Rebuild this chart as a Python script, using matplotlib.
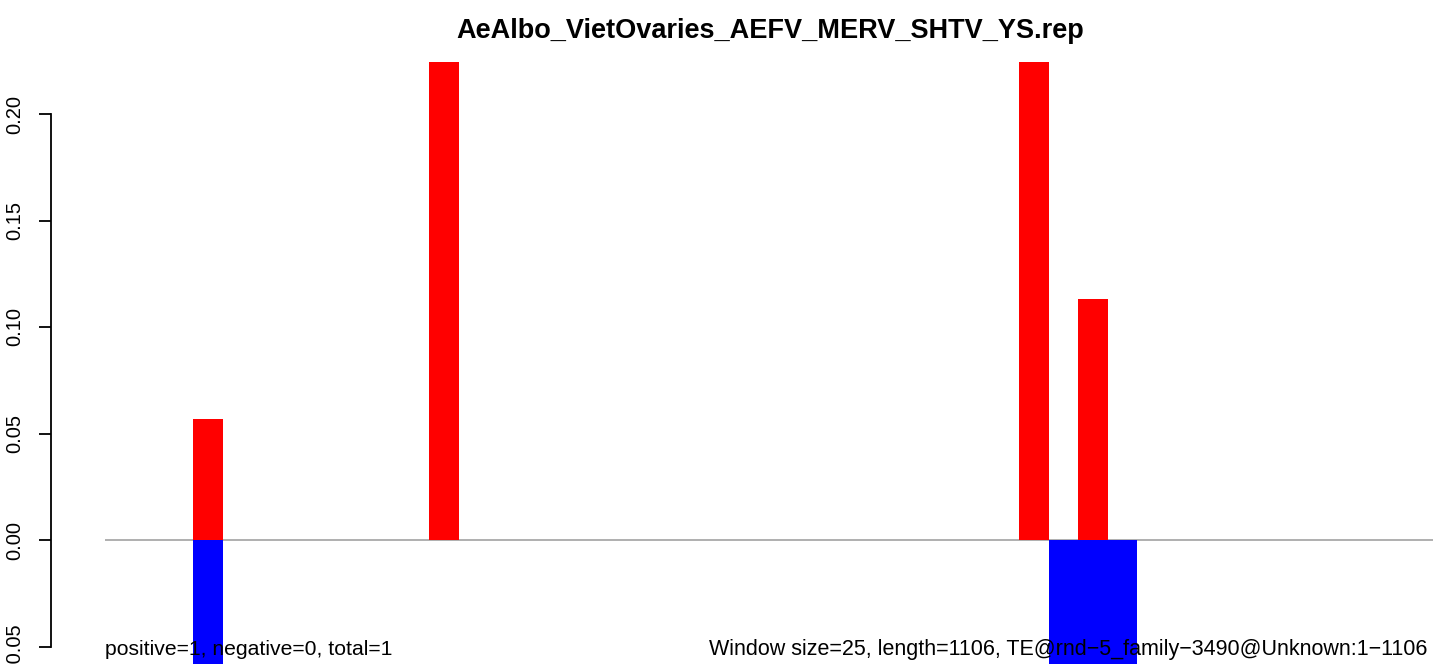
import matplotlib
matplotlib.use("Agg")
import matplotlib.pyplot as plt
import numpy as np

plt.rcParams['font.family'] = ['Liberation Sans', 'DejaVu Sans']
plt.rcParams['axes.unicode_minus'] = False

# window index -> score (window size 25 over a 1106 bp element)
n_windows = 45
pos_idx = [3, 11, 31, 33]
pos_val = [0.0566, 0.2264, 0.2264, 0.1132]
neg_idx = [3, 32, 33, 34]
neg_val = [-0.06, -0.06, -0.06, -0.06]

title = "AeAlbo_VietOvaries_AEFV_MERV_SHTV_YS.rep"
left_note = "positive=1, negative=0, total=1"
right_note = "Window size=25, length=1106, TE@rnd\u22125_family\u22123490@Unknown:1\u22121106"
yticks = [-0.05, 0.00, 0.05, 0.10, 0.15, 0.20]

W, H = 1433, 664
fig = plt.figure(figsize=(W / 100, H / 100), dpi=100)
# plot region is wider than the picture (cropped on the right and bottom)
ax = fig.add_axes([51.4 / W, 0.0, 1434 / W, (H - 62) / H])
ax.set_xlim(-1.8, n_windows + 1.8)
ax.set_ylim(-124 / 2130, 478 / 2130)

ax.hlines(0, 0, n_windows + 1.8, color='darkgray', lw=1.3, zorder=1)
ax.bar(pos_idx, pos_val, width=1, align='edge', color='#ff0000', lw=0, zorder=2)
ax.bar(neg_idx, neg_val, width=1, align='edge', color='#0000ff', lw=0, zorder=2)

for s in ['top', 'right', 'bottom']:
    ax.spines[s].set_visible(False)
ax.spines['left'].set_bounds(yticks[0], yticks[-1])
ax.spines['left'].set_linewidth(1.3)
ax.set_xticks([])
ax.set_yticks(yticks)
ax.set_yticklabels(["%.2f" % v if v >= 0 else "-%.2f" % -v for v in yticks],
                   rotation=90, va='center', fontsize=14.5)
ax.tick_params(axis='y', length=8.6, width=1.3, pad=11)

ax.text(0, -0.054, left_note, fontsize=15.2, ha='left', va='baseline', zorder=3)
ax.text(44.85, -0.054, right_note, fontsize=15.5, ha='right', va='baseline', zorder=3)

fig.text(770 / W, 1 - 31 / H, title, fontsize=19.5, fontweight='bold',
         ha='center', va='center')

fig.savefig("out.png", dpi=100)
